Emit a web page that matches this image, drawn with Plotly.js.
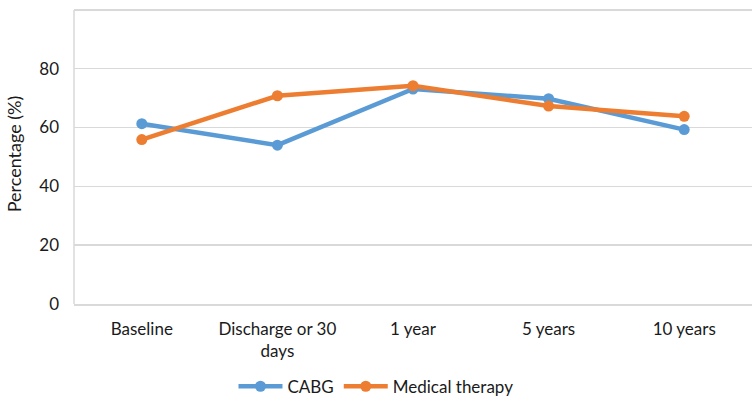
<!DOCTYPE html>
<html>
<head>
<meta charset="utf-8">
<script src="https://cdn.plot.ly/plotly-3.0.1.min.js"></script>
<style>html,body{margin:0;padding:0;background:#fff;}#chart{width:755px;height:408px;}</style>
</head>
<body>
<div id="chart"></div>
<script>
const categories = ["Baseline", "Discharge or 30<br>days", "1 year", "5 years", "10 years"];
const cabgValues = [61.3, 54.0, 73.1, 69.8, 59.3];
const medicalValues = [55.9, 70.8, 74.2, 67.3, 63.8];
const yTicks = [0, 20, 40, 60, 80, 100];

const FONT = "Lato, 'Open Sans', sans-serif";
const TXT = "#1a1a1a";

const traces = [
  {
    x: categories, y: cabgValues, name: "CABG", type: "scatter", mode: "lines+markers",
    line: {color: "#5b9bd5", width: 4.5}, marker: {color: "#5b9bd5", size: 11}
  },
  {
    x: categories, y: medicalValues, name: "Medical therapy", type: "scatter", mode: "lines+markers",
    line: {color: "#ed7d31", width: 4.5}, marker: {color: "#ed7d31", size: 11}
  }
];

const layout = {
  width: 755, height: 408,
  paper_bgcolor: "#ffffff", plot_bgcolor: "#ffffff",
  margin: {l: 74, r: 3, t: 4, b: 97.5},
  font: {family: FONT, size: 17, color: TXT},
  showlegend: true,
  legend: {
    orientation: "h", xref: "paper", yref: "paper",
    x: 0.4454, xanchor: "center", y: -0.2757, yanchor: "middle",
    bgcolor: "rgba(0,0,0,0)",
    font: {family: FONT, size: 17, color: TXT},
    itemwidth: 44, tracegroupgap: 0
  },
  xaxis: {
    type: "category", range: [-0.5, 4.5],
    showgrid: false, zeroline: false,
    showline: true, linecolor: "#d9d9d9", linewidth: 1.5,
    ticks: "", ticklabelstandoff: 9,
    tickfont: {family: FONT, size: 17, color: TXT},
    fixedrange: true
  },
  yaxis: {
    range: [0, 102], tickmode: "array", tickvals: yTicks, ticktext: yTicks.map(String),
    showgrid: true, gridcolor: "#d9d9d9", gridwidth: 1.5,
    zeroline: false, showline: false,
    ticks: "", ticklabelstandoff: 14,
    tickfont: {family: FONT, size: 17, color: TXT},
    title: {text: "Percentage (%)", font: {family: FONT, size: 18, color: TXT}, standoff: 12},
    fixedrange: true
  },
  shapes: [
    {type: "line", xref: "paper", yref: "y", x0: 0, x1: 0, y0: 0, y1: 100,
     line: {color: "#d9d9d9", width: 1.5}, layer: "below"},
    {type: "line", xref: "paper", yref: "y", x0: 0, x1: 1, y0: 100, y1: 100,
     line: {color: "#d9d9d9", width: 1.5}, layer: "below"}
  ]
};

Plotly.newPlot("chart", traces, layout, {displayModeBar: false, staticPlot: true});
</script>
</body>
</html>
